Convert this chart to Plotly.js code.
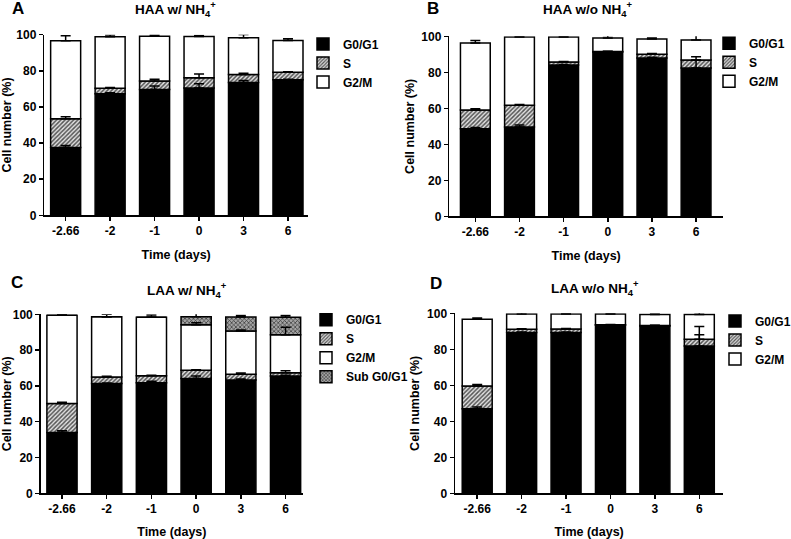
<!DOCTYPE html>
<html>
<head>
<meta charset="utf-8">
<script src="https://cdn.plot.ly/plotly-3.0.1.min.js"></script>
<style>html,body{margin:0;padding:0;background:#fff;}#chart{width:791px;height:539px;}</style>
</head>
<body>
<div id="chart"></div>
<script>
// ---------- data ----------
const timeLabels = ['-2.66', '-2', '-1', '0', '3', '6'];
const phaseNames = ['G0/G1', 'S', 'G2/M', 'Sub G0/G1'];

// Panel A: HAA w/ NH4+
const haaWithG0 = [37.6, 67.3, 69.7, 70.5, 73.6, 75.1];
const haaWithS = [15.9, 3.0, 4.7, 5.7, 4.4, 4.1];
const haaWithG2M = [43.2, 28.6, 24.8, 22.8, 20.3, 17.6];
const haaWithG0Err = [1.1, 0.5, 1.9, 2.4, 1.1, 0.3];
const haaWithSErr = [1.1, 0.5, 0.9, 2.0, 0.6, 0.3];
const haaWithG2MErr = [2.7, 1.0, 0.8, 0.6, 1.8, 0.9];

// Panel B: HAA w/o NH4+
const haaWithoutG0 = [48.7, 49.6, 84.1, 91.3, 88.0, 82.4];
const haaWithoutS = [10.4, 12.1, 1.6, 0.2, 2.0, 4.5];
const haaWithoutG2M = [37.2, 37.9, 13.9, 7.6, 8.5, 11.1];
const haaWithoutG0Err = [0.7, 1.1, 0.3, 0.2, 0.4, 4.3];
const haaWithoutSErr = [0.7, 0.4, 0.3, 0.2, 0.4, 1.8];
const haaWithoutG2MErr = [1.3, 0.6, 0.5, 1.4, 0.5, 2.6];

// Panel C: LAA w/ NH4+
const laaWithG0 = [33.9, 61.3, 61.8, 64.2, 63.3, 65.5];
const laaWithS = [16.2, 3.7, 3.9, 4.5, 3.2, 1.9];
const laaWithG2M = [49.3, 33.7, 32.6, 25.5, 24.2, 21.2];
const laaWithSub = [0, 0, 0, 4.5, 7.8, 9.7];
const laaWithG0Err = [1.1, 0.3, 0.8, 1.3, 0.5, 0.5];
const laaWithSErr = [0.7, 0.4, 0.3, 0.3, 0.7, 1.1];
const laaWithG2MErr = [0.6, 1.3, 1.3, 1.1, 0.5, 4.1];
const laaWithSubErr = [0, 0, 0, 1.9, 0.8, 1.0];

// Panel D: LAA w/o NH4+
const laaWithoutG0 = [47.0, 89.3, 89.3, 93.5, 93.0, 81.9];
const laaWithoutS = [12.6, 1.8, 2.0, 0.2, 0.2, 3.7];
const laaWithoutG2M = [37.1, 8.5, 8.3, 5.9, 6.2, 13.8];
const laaWithoutG0Err = [1.0, 0.3, 0.3, 0.2, 0.2, 6.2];
const laaWithoutSErr = [0.8, 0.3, 0.3, 0.1, 0.1, 7.0];
const laaWithoutG2MErr = [0.7, 1.0, 0.2, 0.2, 0.2, 1.1];

// ---------- styling ----------
const W = 791, H = 539;
const FONT = 'Liberation Sans, Arial, Helvetica, sans-serif';
const phaseMarkers = [
  {color: '#000000'},
  {color: '#b0b0b0', pattern: {shape: '/', fgcolor: '#555555', bgcolor: '#e2e2e2', size: 3, solidity: 0.5}},
  {color: '#ffffff'},
  {color: '#8a8a8a', pattern: {shape: 'x', fgcolor: '#333333', bgcolor: '#a4a4a4', size: 3, solidity: 0.4}}
];

const panels = [
  {ax: '', legend: 'legend', vals: [haaWithG0, haaWithS, haaWithG2M], errs: [haaWithG0Err, haaWithSErr, haaWithG2MErr]},
  {ax: '2', legend: 'legend2', vals: [haaWithoutG0, haaWithoutS, haaWithoutG2M], errs: [haaWithoutG0Err, haaWithoutSErr, haaWithoutG2MErr]},
  {ax: '3', legend: 'legend3', vals: [laaWithG0, laaWithS, laaWithG2M, laaWithSub], errs: [laaWithG0Err, laaWithSErr, laaWithG2MErr, laaWithSubErr]},
  {ax: '4', legend: 'legend4', vals: [laaWithoutG0, laaWithoutS, laaWithoutG2M], errs: [laaWithoutG0Err, laaWithoutSErr, laaWithoutG2MErr]}
];

const traces = [];
panels.forEach(p => {
  const bases = [];
  let running = timeLabels.map(() => 0);
  p.vals.forEach(v => { bases.push(running.slice()); running = running.map((r, i) => r + v[i]); });
  // visible stacked segments
  p.vals.forEach((v, k) => {
    const m = Object.assign({}, phaseMarkers[k], {line: {color: '#000', width: 1.5}});
    traces.push({
      type: 'bar', x: timeLabels, y: v, base: bases[k], name: phaseNames[k],
      xaxis: 'x' + p.ax, yaxis: 'y' + p.ax, legend: p.legend,
      marker: m, hoverinfo: 'skip'
    });
  });
  // error bars drawn above all segments
  p.vals.forEach((v, k) => {
    traces.push({
      type: 'bar', x: timeLabels, y: v, base: bases[k], name: phaseNames[k] + ' SEM',
      xaxis: 'x' + p.ax, yaxis: 'y' + p.ax, legend: p.legend, showlegend: false,
      marker: {color: 'rgba(0,0,0,0)', line: {width: 0}}, hoverinfo: 'skip',
      error_y: {type: 'data', symmetric: false, array: p.errs[k], arrayminus: timeLabels.map(() => 0),
                color: '#000', thickness: 1.5, width: 5}
    });
  });
});

// geometry (pixels)
const geo = [
  {x0: 44.3, x1: 308, yb: 215.3, yt: 34.7, r0: -0.48, r1: 5.45},
  {x0: 449.3, x1: 723, yb: 216.3, yt: 36.3, r0: -0.59, r1: 5.61},
  {x0: 40.7, x1: 303, yb: 493.3, yt: 314.3, r0: -0.476, r1: 5.39},
  {x0: 455, x1: 723.3, yb: 493.3, yt: 313.3, r0: -0.5, r1: 5.54}
];

const tickFont = {family: FONT, size: 12, color: '#000', weight: 'bold'};
const titleFont = {family: FONT, size: 12.5, color: '#000', weight: 'bold'};

const layout = {
  width: W, height: H, margin: {l: 0, r: 0, t: 0, b: 0, autoexpand: false},
  paper_bgcolor: '#fff', plot_bgcolor: 'rgba(0,0,0,0)',
  barmode: 'overlay', bargap: 0.325,
  showlegend: true, annotations: []
};

geo.forEach((g, i) => {
  const s = i === 0 ? '' : String(i + 1);
  layout['xaxis' + s] = {
    domain: [g.x0 / W, g.x1 / W], anchor: 'y' + s, type: 'category',
    range: [g.r0, g.r1], showline: true, linecolor: '#000', linewidth: 1.5,
    ticks: 'outside', ticklen: 4, tickwidth: 1.5, tickcolor: '#000',
    showgrid: false, zeroline: false, tickfont: tickFont, fixedrange: true,
    title: {text: 'Time (days)', font: titleFont, standoff: 13}
  };
  layout['yaxis' + s] = {
    domain: [1 - g.yb / H, 1 - g.yt / H], anchor: 'x' + s,
    range: [0, 100], dtick: 20, showline: true, linecolor: '#000', linewidth: 1.5,
    ticks: 'outside', ticklen: 4, tickwidth: 1.5, tickcolor: '#000',
    showgrid: false, zeroline: false, tickfont: tickFont, fixedrange: true,
    title: {text: 'Cell number (%)', font: titleFont, standoff: 4}
  };
});

const legendPos = [
  {cx: 323, top: 29.5},
  {cx: 729, top: 28.8},
  {cx: 326, top: 305.3},
  {cx: 735, top: 306.5}
];
legendPos.forEach((lp, i) => {
  const key = i === 0 ? 'legend' : 'legend' + (i + 1);
  layout[key] = {
    x: (lp.cx - 20) / W, y: 1 - lp.top / H, xanchor: 'left', yanchor: 'top',
    bgcolor: 'rgba(0,0,0,0)', borderwidth: 0, traceorder: 'normal', tracegroupgap: 0,
    font: {family: FONT, size: 12, color: '#000', weight: 'bold'}, itemclick: false, itemdoubleclick: false
  };
});

const titles = [
  {t: 'HAA w/ NH<sub>4</sub><sup>+</sup>', x: 175, y: 9, letter: 'A', lx: 18, ly: 8},
  {t: 'HAA w/o NH<sub>4</sub><sup>+</sup>', x: 588, y: 9, letter: 'B', lx: 433, ly: 8},
  {t: 'LAA w/ NH<sub>4</sub><sup>+</sup>', x: 187, y: 290, letter: 'C', lx: 17, ly: 282},
  {t: 'LAA w/o NH<sub>4</sub><sup>+</sup>', x: 595, y: 288, letter: 'D', lx: 436, ly: 283}
];
titles.forEach(t => {
  layout.annotations.push({
    xref: 'paper', yref: 'paper', x: t.x / W, y: 1 - t.y / H, xanchor: 'center', yanchor: 'middle',
    text: t.t, showarrow: false, font: {family: FONT, size: 13.5, color: '#000', weight: 'bold'}
  });
  layout.annotations.push({
    xref: 'paper', yref: 'paper', x: t.lx / W, y: 1 - t.ly / H, xanchor: 'center', yanchor: 'middle',
    text: t.letter, showarrow: false, font: {family: FONT, size: 17, color: '#000', weight: 'bold'}
  });
});

Plotly.newPlot('chart', traces, layout, {displayModeBar: false, staticPlot: true});
</script>
</body>
</html>
